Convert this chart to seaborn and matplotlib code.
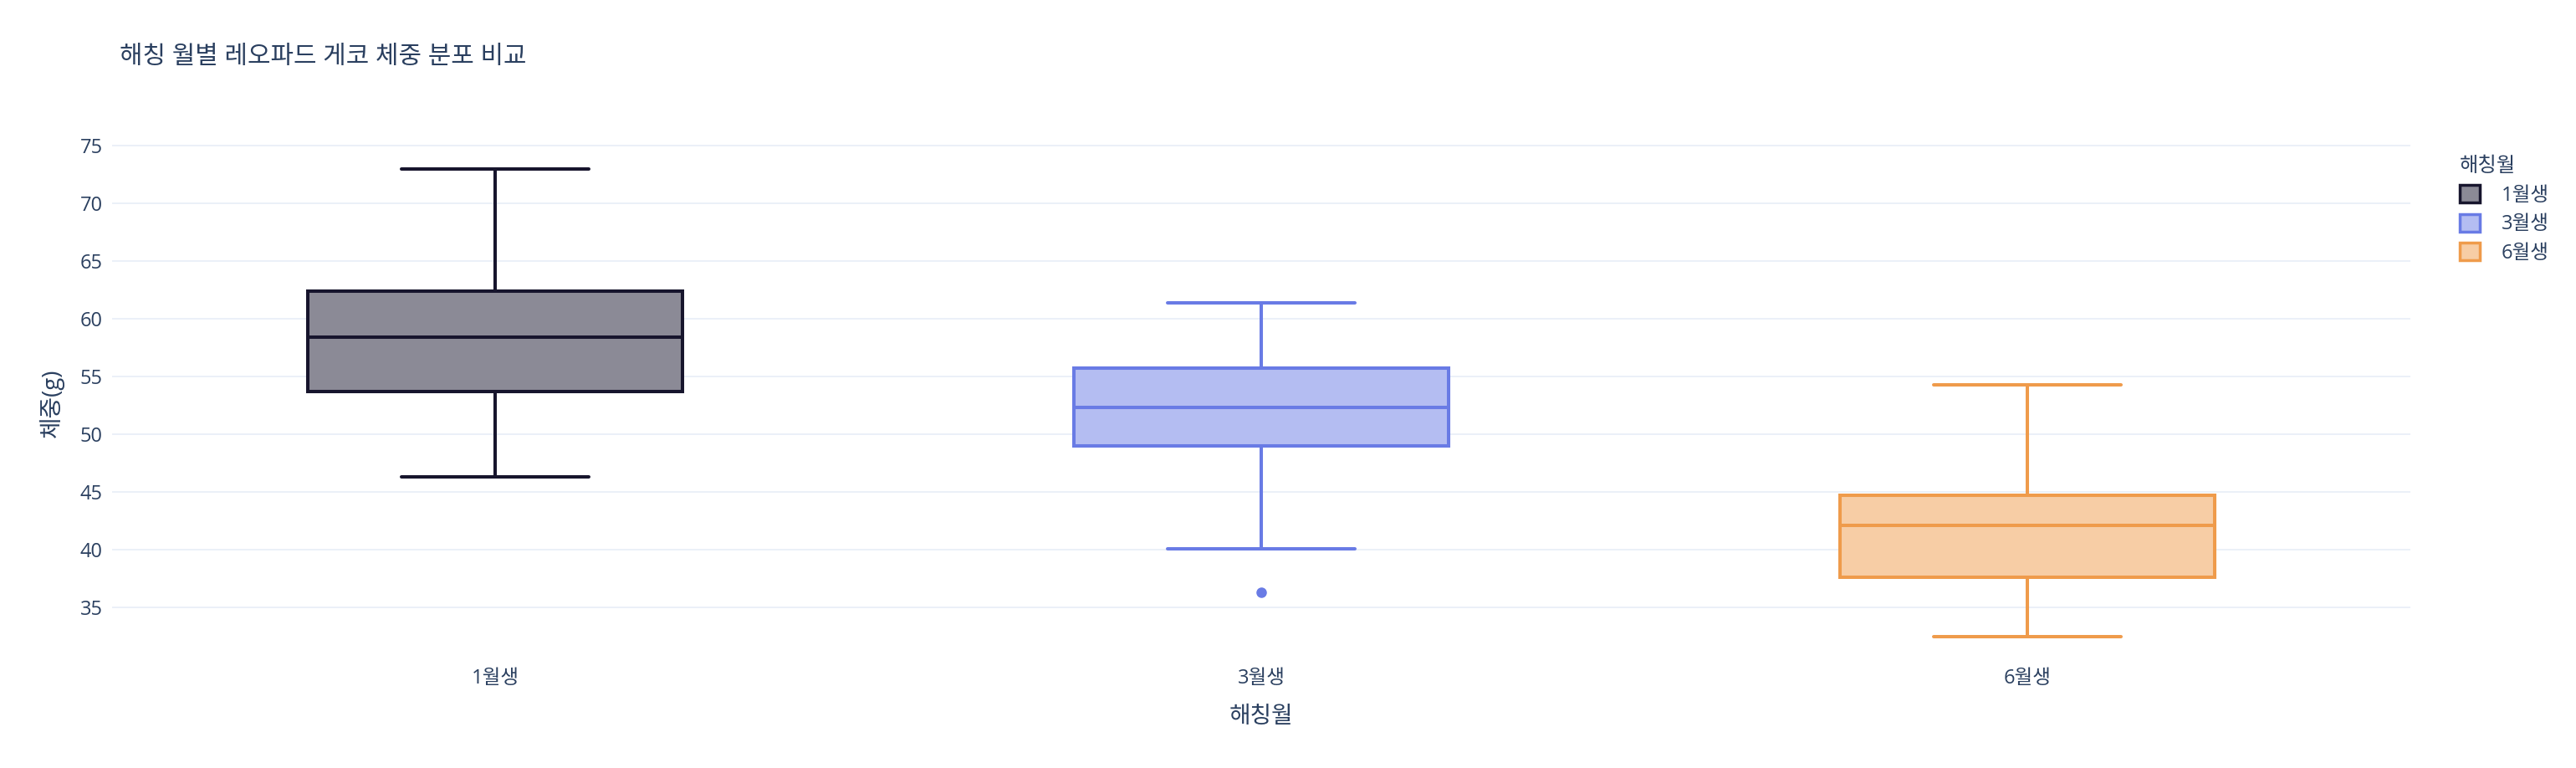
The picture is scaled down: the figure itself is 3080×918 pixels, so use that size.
import numpy as np
import pandas as pd
import seaborn as sns
from matplotlib import pyplot as plt
from matplotlib.patches import Patch

# 해칭월별 체중 샘플 (그림에서 읽은 사분위/수염 값에 맞춤)
months = ["1월생", "3월생", "6월생"]
weight_jan = [46.3, 50.1, 53.7, 56.2, 58.4, 60.6, 62.4, 67.5, 73.0]
weight_mar = [36.3, 40.1, 49.0, 50.6, 52.3, 54.1, 55.7, 58.6, 61.4]
weight_jun = [32.5, 35.2, 37.6, 40.0, 42.1, 43.4, 44.7, 49.2, 54.3]

line_colors = ["#17152d", "#697be5", "#ef9b4b"]
fill_colors = ["#8b8a96", "#b4bdf2", "#f7cda5"]
text_color = "#2a3f5f"

df = pd.DataFrame({
    "해칭월": np.repeat(months, [len(weight_jan), len(weight_mar), len(weight_jun)]),
    "체중(g)": weight_jan + weight_mar + weight_jun,
})

sns.set_theme(style="white")
plt.rcParams["font.family"] = ["Open Sans", "Noto Sans CJK KR", "DejaVu Sans"]

fig = plt.figure(figsize=(30.8, 9.18), dpi=100)
ax = fig.add_axes([134 / 3080, 1 - 791 / 918, (2882 - 134) / 3080, (791 - 172.6) / 918])

for m, lc, fc in zip(months, line_colors, fill_colors):
    sub = df[df["해칭월"] == m]
    sns.boxplot(data=sub, x="해칭월", y="체중(g)", order=months, ax=ax,
                color=fc, linecolor=lc, saturation=1, width=0.49, linewidth=2.9,
                flierprops=dict(marker="o", markerfacecolor=lc, markeredgecolor=lc,
                                markersize=8))

ax.set_ylim(30.3, 75.1)
ax.set_yticks([35, 40, 45, 50, 55, 60, 65, 70, 75])
ax.yaxis.grid(True, color="#ebf0f8", linewidth=1.4)
ax.xaxis.grid(False)
ax.set_axisbelow(True)
for s in ax.spines.values():
    s.set_visible(False)
ax.tick_params(axis="both", length=0, labelsize=17, labelcolor=text_color)
ax.tick_params(axis="x", pad=6)
ax.tick_params(axis="y", pad=8)
ax.set_xlabel("해칭월", fontsize=20, color=text_color, labelpad=14)
ax.set_ylabel("체중(g)", fontsize=20, color=text_color, labelpad=14)

fig.text(143 / 3080, 1 - 68 / 918, "해칭 월별 레오파드 게코 체중 분포 비교",
         fontsize=21.5, color=text_color, va="center", ha="left")

handles = [Patch(facecolor=fc, edgecolor=lc, linewidth=2.5) for lc, fc in zip(line_colors, fill_colors)]
leg = ax.legend(handles, months, title="해칭월", loc="upper left",
                bbox_to_anchor=(2920 / 3080, 1 - 166 / 918), bbox_transform=fig.transFigure,
                frameon=False, fontsize=17, title_fontsize=17.5,
                handlelength=1.0, handleheight=1.0, handletextpad=1.1, labelspacing=0.42)
leg._legend_box.align = "left"
for t in leg.get_texts():
    t.set_color(text_color)
leg.get_title().set_color(text_color)

fig.savefig("out.png", dpi=100, facecolor="white")
